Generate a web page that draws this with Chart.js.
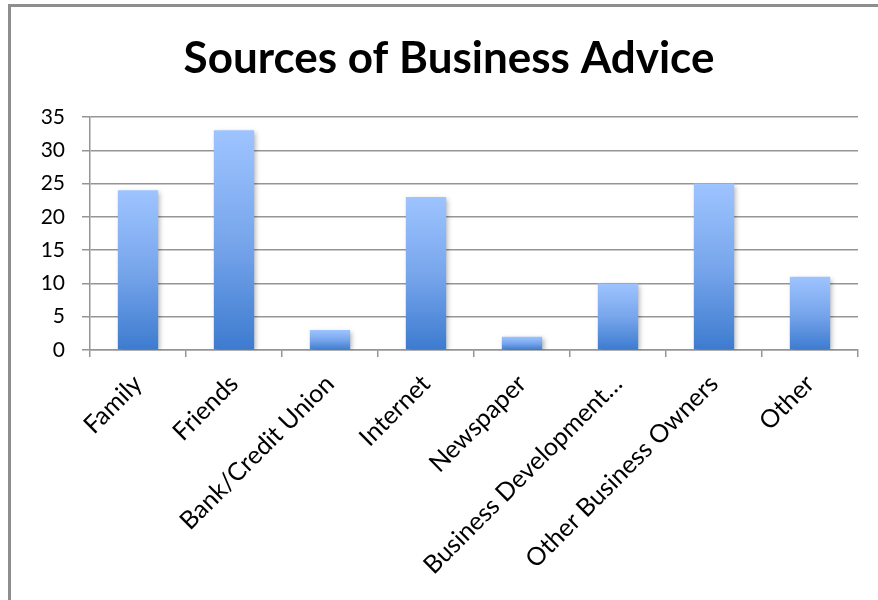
<!DOCTYPE html>
<html>
<head>
<meta charset="utf-8">
<script src="https://cdn.jsdelivr.net/npm/chart.js@4"></script>
<style>
  html, body { margin: 0; padding: 0; background: #fff; overflow: hidden; }
  #marco { position: absolute; left: 8px; top: 4px; width: 900px; height: 620px; border: 3px solid #8e8e8e; }
  #lienzo { position: absolute; left: 0; top: 0; }
</style>
</head>
<body>
<div id="marco"></div>
<canvas id="lienzo" width="878" height="600"></canvas>
<script>
// Fuentes de asesoramiento para negocios (número de respuestas)
const categorias = ["Family", "Friends", "Bank/Credit Union", "Internet", "Newspaper",
  "Business Development…", "Other Business Owners", "Other"];
const respuestas = [24, 33, 3, 23, 2, 10, 25, 11];
const ticksY = [0, 5, 10, 15, 20, 25, 30, 35];

const FUENTE = "Lato, 'Open Sans', sans-serif";

// Degradado vertical en cada barra: claro arriba, oscuro en la base.
function degradadoBarra(ctx) {
  const chart = ctx.chart;
  const y = chart.scales.y;
  if (!chart.chartArea || !y) return "#6a9ee8";
  const arriba = y.getPixelForValue(ctx.raw);
  const abajo = y.getPixelForValue(0);
  const g = chart.ctx.createLinearGradient(0, arriba, 0, abajo);
  g.addColorStop(0, "#9ec4ff");
  g.addColorStop(0.5, "#78a6ec");
  g.addColorStop(1, "#3d7bcf");
  return g;
}

// Sombra suave detrás de las barras
const sombraBarras = {
  id: "sombraBarras",
  beforeDatasetDraw(chart) {
    const c = chart.ctx;
    c.save();
    c.shadowColor = "rgba(0,0,0,0.3)";
    c.shadowBlur = 5;
    c.shadowOffsetX = 2;
    c.shadowOffsetY = 2;
  },
  afterDatasetDraw(chart) {
    chart.ctx.restore();
  },
};

new Chart(document.getElementById("lienzo").getContext("2d"), {
  type: "bar",
  data: {
    labels: categorias,
    datasets: [{
      data: respuestas,
      backgroundColor: degradadoBarra,
      borderWidth: 0,
      categoryPercentage: 1,
      barPercentage: 0.42,
    }],
  },
  options: {
    responsive: false,
    animation: false,
    layout: { padding: { left: 40, right: 20, top: 0, bottom: 0 } },
    plugins: {
      legend: { display: false },
      tooltip: { enabled: false },
      title: {
        display: true,
        text: "Sources of Business Advice",
        color: "#000",
        font: { family: FUENTE, size: 44, weight: "bold", lineHeight: 1.2 },
        padding: { top: 32, bottom: 32.2 },
      },
    },
    scales: {
      x: {
        afterFit: (s) => { s.height = 250; },
        grid: { drawOnChartArea: false, drawTicks: true, tickLength: 7, color: "#959595", lineWidth: 1.5 },
        border: { color: "#959595", width: 1.5 },
        ticks: { color: "#000", font: { family: FUENTE, size: 25 }, minRotation: 45, maxRotation: 45, autoSkip: false, padding: 12 },
      },
      y: {
        min: 0,
        max: 35,
        afterFit: (s) => { s.width = 50; },
        afterBuildTicks: (s) => { s.ticks = ticksY.map((v) => ({ value: v })); },
        grid: { color: "#959595", lineWidth: 1.5, tickLength: 8 },
        border: { color: "#959595", width: 1.5 },
        ticks: { color: "#000", font: { family: FUENTE, size: 21 }, padding: 17 },
      },
    },
  },
  plugins: [sombraBarras],
});
</script>
</body>
</html>
